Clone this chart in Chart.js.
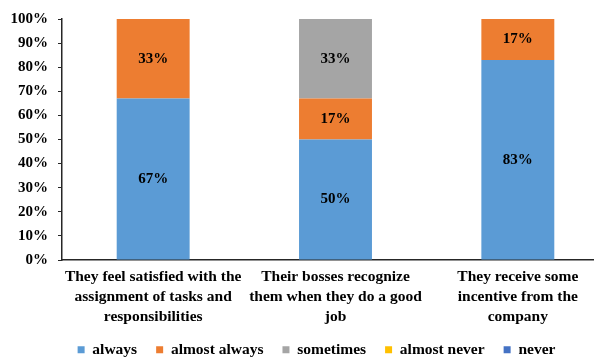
<!DOCTYPE html>
<html>
<head>
<meta charset="utf-8">
<script src="https://cdn.jsdelivr.net/npm/chart.js@4/dist/chart.umd.min.js"></script>
<style>
  html, body { margin: 0; padding: 0; background: #fff; overflow: hidden; }
  #wrap { width: 612px; height: 363px; }
</style>
</head>
<body>
<div id="wrap"><canvas id="chart" width="612" height="363"></canvas></div>
<script>
// survey questions (one stacked bar each)
const categories = [
  ['They feel satisfied with the', 'assignment of tasks and', 'responsibilities'],
  ['Their bosses recognize', 'them when they do a good', 'job'],
  ['They receive some', 'incentive from the', 'company']
];

// share of answers, in percent
const always = [67, 50, 83];
const almostAlways = [33, 17, 17];
const sometimes = [0, 33, 0];
const almostNever = [0, 0, 0];
const never = [0, 0, 0];

const yTicks = [0, 10, 20, 30, 40, 50, 60, 70, 80, 90, 100];

const FONT = '"Liberation Serif", "Times New Roman", serif';

// writes the percentage in the middle of every non-empty segment
const segmentLabels = {
  id: 'segmentLabels',
  afterDatasetsDraw (chart) {
    const ctx = chart.ctx;
    ctx.save();
    ctx.font = 'bold 15px ' + FONT;
    ctx.fillStyle = '#000';
    ctx.textAlign = 'center';
    ctx.textBaseline = 'middle';
    chart.data.datasets.forEach(function (ds, i) {
      const meta = chart.getDatasetMeta(i);
      if (meta.hidden) return;
      meta.data.forEach(function (bar, j) {
        const v = ds.data[j];
        if (!v) return;
        const p = bar.getProps(['x', 'y', 'base'], true);
        ctx.fillText(v + '%', p.x, (p.y + p.base) / 2);
      });
    });
    ctx.restore();
  }
};

// nudge the legend row into place under the plot
const legendShift = {
  id: 'legendShift',
  afterLayout (chart) {
    const lg = chart.legend;
    lg.left += 12;
    lg.right += 12;
    lg.top -= 4;
    lg.bottom -= 4;
  }
};

new Chart(document.getElementById('chart'), {
  type: 'bar',
  data: {
    labels: categories,
    datasets: [
      { label: 'always', data: always, backgroundColor: '#5B9BD5' },
      { label: 'almost always', data: almostAlways, backgroundColor: '#ED7D31' },
      { label: 'sometimes', data: sometimes, backgroundColor: '#A5A5A5' },
      { label: 'almost never', data: almostNever, backgroundColor: '#FFC000' },
      { label: 'never', data: never, backgroundColor: '#4472C4' }
    ]
  },
  options: {
    responsive: false,
    animation: false,
    events: [],
    layout: { padding: { top: 14, right: 3, bottom: -8.5, left: 0 } },
    datasets: { bar: { categoryPercentage: 1, barPercentage: 0.4 } },
    scales: {
      x: {
        stacked: true,
        grid: { display: false, drawTicks: false },
        border: { display: true, color: '#262626', width: 1.5 },
        ticks: {
          color: '#000',
          padding: 7,
          maxRotation: 0,
          autoSkip: false,
          font: { family: FONT, size: 15.5, weight: 'bold', lineHeight: 20 / 15.5 }
        },
        afterFit (scale) { scale.height = 67; }
      },
      y: {
        stacked: true,
        min: 0,
        max: 100,
        afterBuildTicks (scale) { scale.ticks = yTicks.map(function (v) { return { value: v }; }); },
        grid: { drawOnChartArea: false, drawTicks: true, tickLength: 4, color: '#262626', lineWidth: 1 },
        border: { display: true, color: '#262626', width: 1.5 },
        ticks: {
          color: '#000',
          padding: 10,
          font: { family: FONT, size: 15, weight: 'bold' },
          callback (v) { return v + '%'; }
        },
        afterFit (scale) { scale.width = 62; }
      }
    },
    plugins: {
      tooltip: { enabled: false },
      legend: {
        position: 'bottom',
        labels: {
          boxWidth: 7,
          boxHeight: 7,
          padding: 19,
          color: '#000',
          font: { family: FONT, size: 15.5, weight: 'bold' }
        }
      }
    }
  },
  plugins: [segmentLabels, legendShift]
});
</script>
</body>
</html>
